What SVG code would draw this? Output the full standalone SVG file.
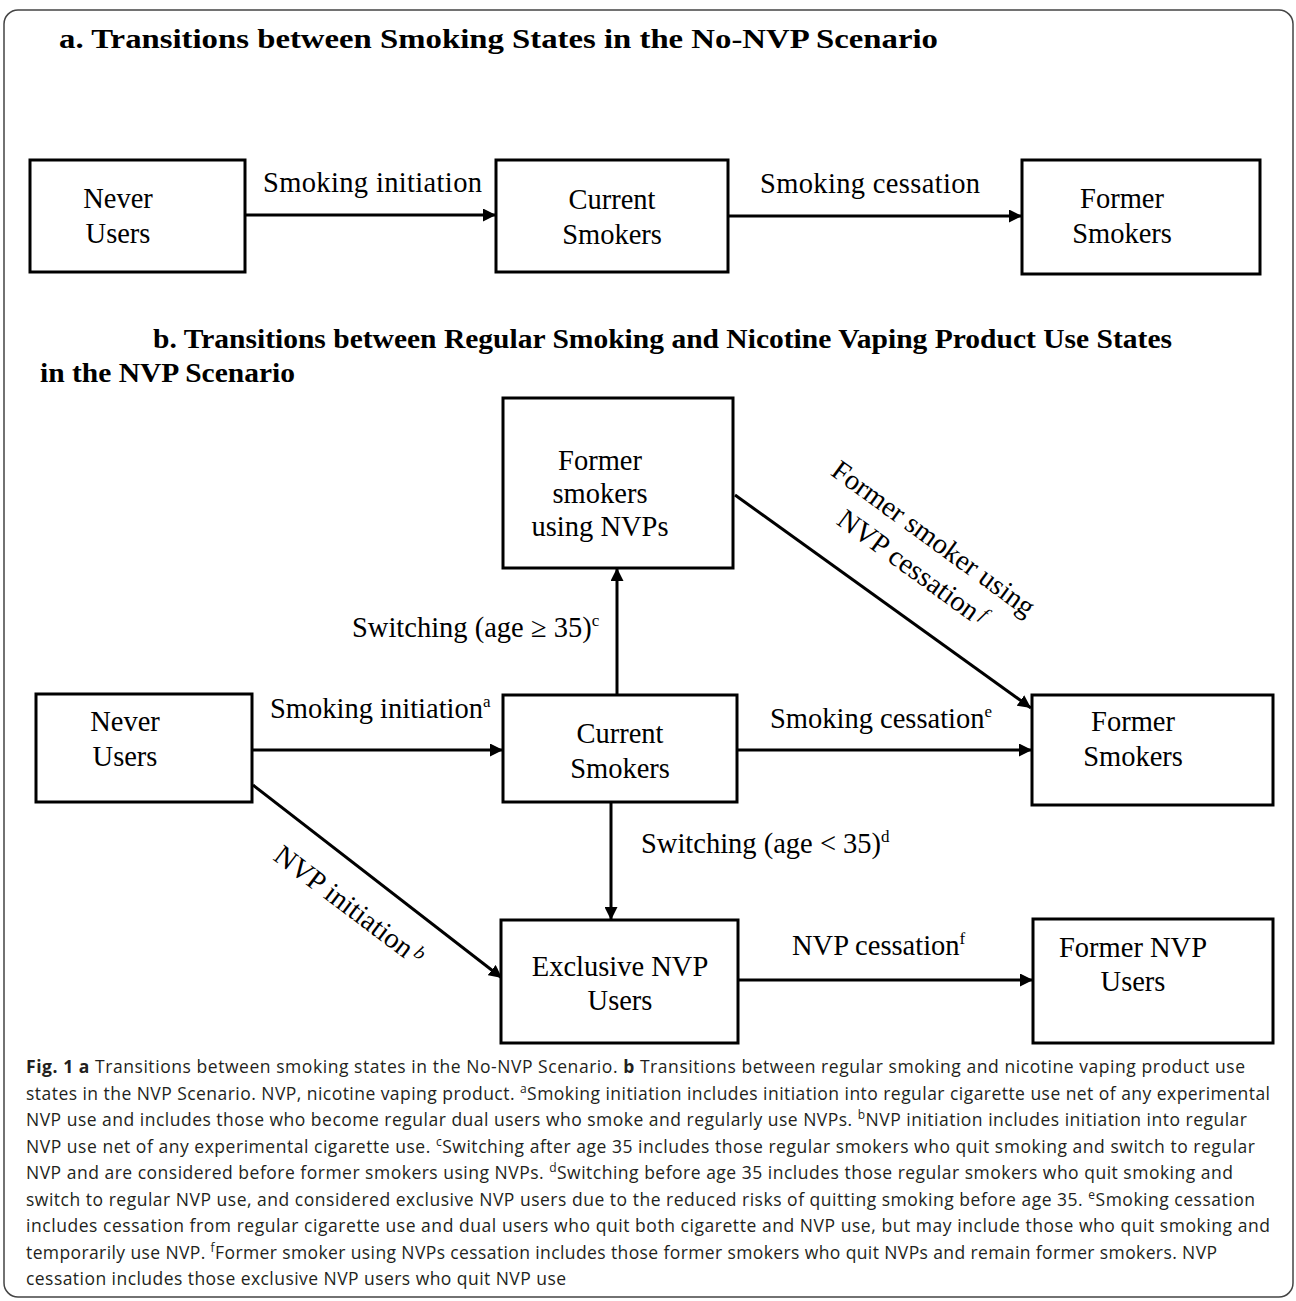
<svg xmlns="http://www.w3.org/2000/svg" width="1296" height="1301" viewBox="0 0 1296 1301">
<style>
.box{fill:#fff;stroke:#000;stroke-width:3}
.lbl{font-family:"Liberation Serif","Times New Roman",serif;font-size:28.5px;fill:#000}
.nd{font-family:"Liberation Serif","Times New Roman",serif;font-size:28.5px;fill:#000;text-anchor:middle}
.ttl{font-family:"Liberation Serif","Times New Roman",serif;font-size:28px;font-weight:bold;fill:#000}
.cap{font-family:"Open Sans","Noto Sans",sans-serif;font-size:17.5px;fill:#231f20}
.edge{stroke:#000;stroke-width:3;fill:none;marker-end:url(#ah)}
</style>
<defs>
<marker id="ah" markerUnits="userSpaceOnUse" markerWidth="14" markerHeight="13" refX="13" refY="6.5" orient="auto">
<path d="M0,0 L13,6.5 L0,13 z" fill="#000"/>
</marker>
</defs>
<rect x="4" y="10" width="1289" height="1287" rx="14" fill="#fff" stroke="#444" stroke-width="1.5"/>

<text class="ttl" x="59" y="48" textLength="879" lengthAdjust="spacingAndGlyphs">a. Transitions between Smoking States in the No-NVP Scenario</text>
<text class="ttl" x="153" y="348" textLength="1019" lengthAdjust="spacingAndGlyphs">b. Transitions between Regular Smoking and Nicotine Vaping Product Use States</text>
<text class="ttl" x="40" y="382" textLength="255" lengthAdjust="spacingAndGlyphs">in the NVP Scenario</text>

<g id="connectors">
<line class="edge" x1="245" y1="215" x2="496" y2="215"/>
<line class="edge" x1="728" y1="216" x2="1022" y2="216"/>
<line class="edge" x1="252" y1="750" x2="503" y2="750"/>
<line class="edge" x1="737" y1="750" x2="1032" y2="750"/>
<line class="edge" x1="617" y1="695" x2="617" y2="568"/>
<line class="edge" x1="611" y1="802" x2="611" y2="920"/>
<line class="edge" x1="735" y1="495" x2="1031" y2="708"/>
<line class="edge" x1="253" y1="785" x2="502" y2="978"/>
<line class="edge" x1="738" y1="980" x2="1033" y2="980"/>
</g>

<g id="edge-labels">
<text class="lbl" x="263" y="192" textLength="219">Smoking initiation</text>
<text class="lbl" x="760" y="193" textLength="220">Smoking cessation</text>
<text class="lbl" x="270" y="718">Smoking initiation<tspan font-size="17" dy="-11">a</tspan></text>
<text class="lbl" x="770" y="728">Smoking cessation<tspan font-size="17" dy="-11">e</tspan></text>
<text class="lbl" x="352" y="637">Switching (age ≥ 35)<tspan font-size="17" dy="-11">c</tspan></text>
<text class="lbl" x="641" y="853">Switching (age &lt; 35)<tspan font-size="17" dy="-11">d</tspan></text>
<text class="lbl" x="792" y="955">NVP cessation<tspan font-size="17" dy="-11">f</tspan></text>
<text class="lbl" transform="translate(272,859) rotate(37)">NVP initiation<tspan font-size="19" font-style="italic" dx="4" dy="-8">b</tspan></text>
<text class="lbl" text-anchor="middle" transform="translate(928,546) rotate(36)"><tspan x="0" y="0">Former smoker using</tspan><tspan x="0" y="36">NVP cessation<tspan font-size="19" font-style="italic" dx="4" dy="-8">f</tspan></tspan></text>
</g>

<g id="a-never-users">
<rect class="box" x="30" y="160" width="215" height="112"/>
<text class="nd" x="118" y="208" font-size="29">Never</text>
<text class="nd" x="118" y="243" font-size="29">Users</text>
</g>
<g id="a-current-smokers">
<rect class="box" x="496" y="160" width="232" height="112"/>
<text class="nd" x="612" y="209" font-size="29">Current</text>
<text class="nd" x="612" y="244" font-size="29">Smokers</text>
</g>
<g id="a-former-smokers">
<rect class="box" x="1022" y="160" width="238" height="114"/>
<text class="nd" x="1122" y="208" font-size="29">Former</text>
<text class="nd" x="1122" y="243" font-size="29">Smokers</text>
</g>

<g id="b-former-smokers-nvp">
<rect class="box" x="503" y="398" width="230" height="170"/>
<text class="nd" x="600" y="470">Former</text>
<text class="nd" x="600" y="503">smokers</text>
<text class="nd" x="600" y="536">using NVPs</text>
</g>
<g id="b-never-users">
<rect class="box" x="36" y="694" width="216" height="108"/>
<text class="nd" x="125" y="731">Never</text>
<text class="nd" x="125" y="766">Users</text>
</g>
<g id="b-current-smokers">
<rect class="box" x="503" y="695" width="234" height="107"/>
<text class="nd" x="620" y="743">Current</text>
<text class="nd" x="620" y="778">Smokers</text>
</g>
<g id="b-former-smokers">
<rect class="box" x="1032" y="695" width="241" height="110"/>
<text class="nd" x="1133" y="731">Former</text>
<text class="nd" x="1133" y="766">Smokers</text>
</g>
<g id="b-exclusive-nvp">
<rect class="box" x="501" y="920" width="237" height="123"/>
<text class="nd" x="620" y="976">Exclusive NVP</text>
<text class="nd" x="620" y="1010">Users</text>
</g>
<g id="b-former-nvp">
<rect class="box" x="1033" y="919" width="240" height="124"/>
<text class="nd" x="1133" y="957">Former NVP</text>
<text class="nd" x="1133" y="991">Users</text>
</g>

<g id="caption">
<text class="cap" x="26" y="1073" textLength="1219"><tspan font-weight="bold">Fig. 1 a</tspan> Transitions between smoking states in the No-NVP Scenario. <tspan font-weight="bold">b</tspan> Transitions between regular smoking and nicotine vaping product use</text>
<text class="cap" x="26" y="1099.5" textLength="1244">states in the NVP Scenario. NVP, nicotine vaping product. <tspan font-size="12" dy="-7">a</tspan><tspan dy="7">Smoking initiation includes initiation into regular cigarette use net of any experimental</tspan></text>
<text class="cap" x="26" y="1126" textLength="1221">NVP use and includes those who become regular dual users who smoke and regularly use NVPs. <tspan font-size="12" dy="-7">b</tspan><tspan dy="7">NVP initiation includes initiation into regular</tspan></text>
<text class="cap" x="26" y="1152.5" textLength="1229">NVP use net of any experimental cigarette use. <tspan font-size="12" dy="-7">c</tspan><tspan dy="7">Switching after age 35 includes those regular smokers who quit smoking and switch to regular</tspan></text>
<text class="cap" x="26" y="1179" textLength="1207">NVP and are considered before former smokers using NVPs. <tspan font-size="12" dy="-7">d</tspan><tspan dy="7">Switching before age 35 includes those regular smokers who quit smoking and</tspan></text>
<text class="cap" x="26" y="1205.5" textLength="1229">switch to regular NVP use, and considered exclusive NVP users due to the reduced risks of quitting smoking before age 35. <tspan font-size="12" dy="-7">e</tspan><tspan dy="7">Smoking cessation</tspan></text>
<text class="cap" x="26" y="1232" textLength="1244">includes cessation from regular cigarette use and dual users who quit both cigarette and NVP use, but may include those who quit smoking and</text>
<text class="cap" x="26" y="1258.5" textLength="1191">temporarily use NVP. <tspan font-size="12" dy="-7">f</tspan><tspan dy="7">Former smoker using NVPs cessation includes those former smokers who quit NVPs and remain former smokers. NVP</tspan></text>
<text class="cap" x="26" y="1285" textLength="540">cessation includes those exclusive NVP users who quit NVP use</text>
</g>
</svg>
